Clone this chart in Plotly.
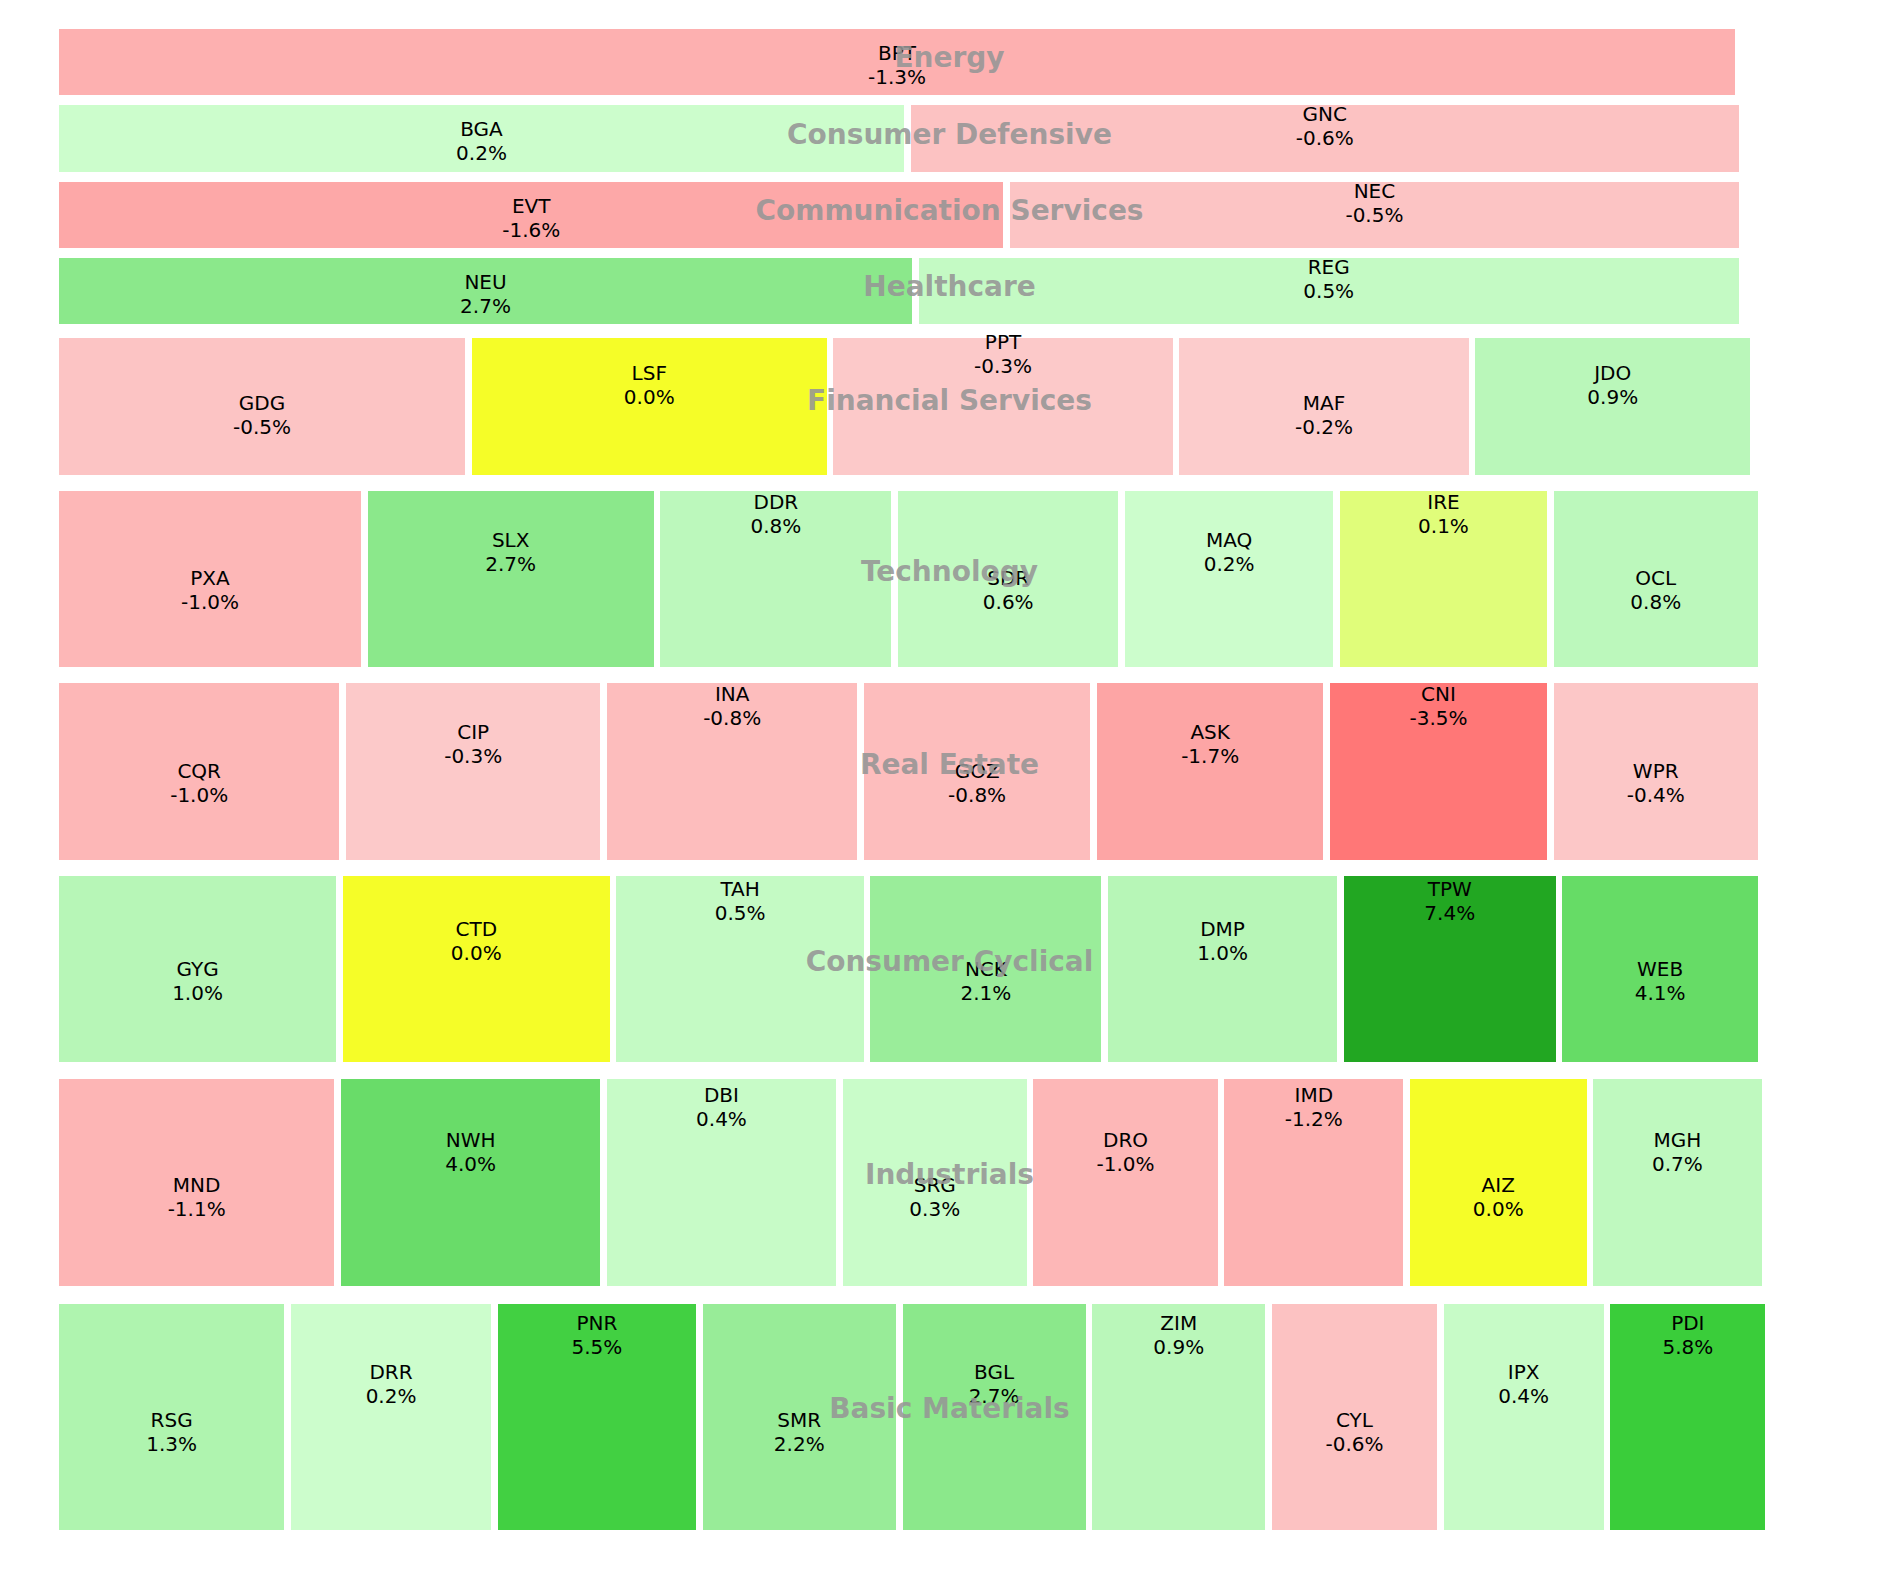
import plotly.graph_objects as go

# ---------------- data ----------------
sectors = ["Energy", "Consumer Defensive", "Communication Services", "Healthcare",
           "Financial Services", "Technology", "Real Estate", "Consumer Cyclical",
           "Industrials", "Basic Materials"]

tickers = ["BPT",
           "BGA", "GNC",
           "EVT", "NEC",
           "NEU", "REG",
           "GDG", "LSF", "PPT", "MAF", "JDO",
           "PXA", "SLX", "DDR", "SDR", "MAQ", "IRE", "OCL",
           "CQR", "CIP", "INA", "GOZ", "ASK", "CNI", "WPR",
           "GYG", "CTD", "TAH", "NCK", "DMP", "TPW", "WEB",
           "MND", "NWH", "DBI", "SRG", "DRO", "IMD", "AIZ", "MGH",
           "RSG", "DRR", "PNR", "SMR", "BGL", "ZIM", "CYL", "IPX", "PDI"]

ticker_sector = (["Energy"] + ["Consumer Defensive"] * 2 + ["Communication Services"] * 2 +
                 ["Healthcare"] * 2 + ["Financial Services"] * 5 + ["Technology"] * 7 +
                 ["Real Estate"] * 7 + ["Consumer Cyclical"] * 7 + ["Industrials"] * 8 +
                 ["Basic Materials"] * 9)

market_caps = [127.6,
               65.3, 64.0,
               72.0, 55.6,
               65.0, 62.5,
               61.7, 54.0, 51.6, 44.1, 41.9,
               58.5, 55.4, 44.9, 42.8, 40.5, 40.3, 39.7,
               54.6, 49.6, 48.8, 44.2, 44.2, 42.4, 39.9,
               56.5, 54.5, 50.5, 47.2, 46.8, 43.4, 40.0,
               62.2, 58.6, 51.9, 41.8, 41.8, 40.7, 40.1, 38.3,
               55.6, 49.5, 49.0, 47.8, 45.3, 42.9, 40.9, 39.7, 38.5]

changes = [-1.3,
           0.2, -0.6,
           -1.6, -0.5,
           2.7, 0.5,
           -0.5, 0.0, -0.3, -0.2, 0.9,
           -1.0, 2.7, 0.8, 0.6, 0.2, 0.1, 0.8,
           -1.0, -0.3, -0.8, -0.8, -1.7, -3.5, -0.4,
           1.0, 0.0, 0.5, 2.1, 1.0, 7.4, 4.1,
           -1.1, 4.0, 0.4, 0.3, -1.0, -1.2, 0.0, 0.7,
           1.3, 0.2, 5.5, 2.2, 2.7, 0.9, -0.6, 0.4, 5.8]

# ---------------- style / layout constants ----------------
FIG_W, FIG_H = 1900, 1580
LEFT, ROW_W = 51.0, 1678.8          # allocated row width
TOP, TOTAL_H = 11.0, 1511.0         # allocated total height
SECTOR_LABEL_X = 941.5
SECTOR_LABEL_DY = 3.0
CELL_SHRINK, CELL_GAP = 2.8, 6.6    # horizontal padding of cells
ROW_PAD_A, ROW_PAD_B = 0.0476, 6.38 # vertical padding above each row
LABEL_FRACS = [0.6, 0.4, 0.2]       # label position (from allocated top) cycling
LABEL_DY = 2.0
LINE_HALF = 12.0

COLOR_STOPS = [(-3.5, (255, 119, 119)), (-0.2, (252, 204, 204)), (0.0, (245, 253, 40)),
               (0.2, (204, 253, 204)), (5.8, (58, 205, 58)), (7.4, (34, 167, 34))]


def change_color(v):
    if v <= COLOR_STOPS[0][0]:
        c = COLOR_STOPS[0][1]
    elif v >= COLOR_STOPS[-1][0]:
        c = COLOR_STOPS[-1][1]
    else:
        for (v0, c0), (v1, c1) in zip(COLOR_STOPS[:-1], COLOR_STOPS[1:]):
            if v0 <= v <= v1:
                t = (v - v0) / (v1 - v0)
                c = tuple(round(a + (b - a) * t) for a, b in zip(c0, c1))
                break
    return "rgb(%d,%d,%d)" % c


# ---------------- compute layout from the data ----------------
sector_totals = {s: sum(m for m, ss in zip(market_caps, ticker_sector) if ss == s) for s in sectors}
grand_total = sum(sector_totals.values())

bar_base, bar_len, bar_y, bar_thick, bar_color = [], [], [], [], []
lab_x, lab_y1, lab_y2, lab_t1, lab_t2 = [], [], [], [], []
sec_x, sec_y = [], []

y_cursor = TOP
for s in sectors:
    H = TOTAL_H * sector_totals[s] / grand_total
    pad = ROW_PAD_A * H + ROW_PAD_B
    y0, y1 = y_cursor + pad, y_cursor + H
    sec_x.append(SECTOR_LABEL_X)
    sec_y.append(y_cursor + H / 2 + SECTOR_LABEL_DY)
    x_cursor = LEFT
    k = 0
    for t, m, c, ss in zip(tickers, market_caps, changes, ticker_sector):
        if ss != s:
            continue
        W = ROW_W * m / sector_totals[s]
        vis = W - CELL_SHRINK
        bar_base.append(x_cursor)
        bar_len.append(vis)
        bar_y.append((y0 + y1) / 2)
        bar_thick.append(y1 - y0)
        bar_color.append(change_color(c))
        yc = y_cursor + LABEL_FRACS[k % 3] * H + LABEL_DY
        lab_x.append(x_cursor + vis / 2)
        lab_y1.append(yc - LINE_HALF)
        lab_y2.append(yc + LINE_HALF)
        lab_t1.append(t)
        lab_t2.append(f"{c:.1f}%")
        x_cursor += vis + CELL_GAP
        k += 1
    y_cursor += H

fig = go.Figure()
fig.add_trace(go.Bar(
    orientation="h", base=bar_base, x=bar_len, y=bar_y, width=bar_thick,
    marker=dict(color=bar_color, line=dict(width=0)),
    hoverinfo="skip", showlegend=False))

fig.add_trace(go.Scatter(x=lab_x, y=lab_y1, text=lab_t1, mode="text",
                         textposition="middle center",
                         textfont=dict(family="DejaVu Sans", size=20, color="black"),
                         hoverinfo="skip", showlegend=False))
fig.add_trace(go.Scatter(x=lab_x, y=lab_y2, text=lab_t2, mode="text",
                         textposition="middle center",
                         textfont=dict(family="DejaVu Sans", size=20, color="black"),
                         hoverinfo="skip", showlegend=False))
fig.add_trace(go.Scatter(x=sec_x, y=sec_y, text=[f"<b>{s}</b>" for s in sectors], mode="text",
                         textposition="middle center",
                         textfont=dict(family="DejaVu Sans", size=28, color="rgba(150,150,150,0.9)"),
                         hoverinfo="skip", showlegend=False))

fig.update_layout(
    width=FIG_W, height=FIG_H, autosize=False,
    margin=dict(l=0, r=0, t=0, b=0, pad=0),
    paper_bgcolor="white", plot_bgcolor="white",
    barmode="overlay", bargap=0,
    xaxis=dict(range=[0, FIG_W], visible=False, fixedrange=True),
    yaxis=dict(range=[FIG_H, 0], visible=False, fixedrange=True),
)

fig.write_html("out.html")
